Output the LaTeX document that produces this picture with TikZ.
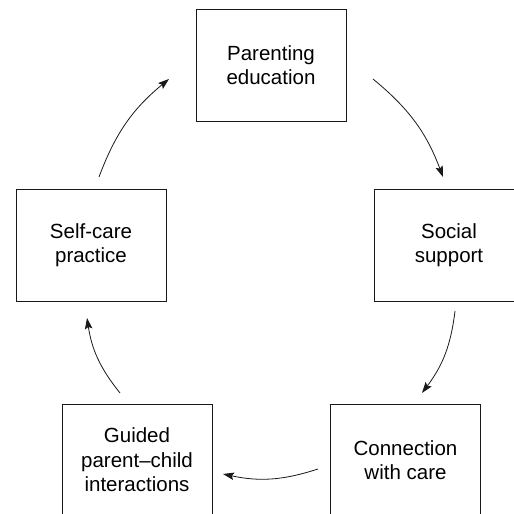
\documentclass[tikz,border=0pt]{standalone}
\usepackage{fontspec}
\setmainfont{Liberation Sans}
\usetikzlibrary{arrows.meta,calc}
\begin{document}
\begin{tikzpicture}[x=1pt,y=1pt,
  stagebox/.style={draw=black!90, line width=0.9pt, minimum width=150pt, minimum height=112pt,
    inner sep=0pt, align=center, font=\fontsize{20.5}{24.5}\selectfont},
  flow/.style={draw=black!90, line width=0.8pt, -{Stealth[length=11pt,width=7.5pt,inset=2pt]}, bend left=15}]
\useasboundingbox (0,0) rectangle (514,514);
\clip (0,0) rectangle (514,514);
\node[stagebox] (P) at (271,449) {Parenting\\education};
\node[stagebox] (S) at (449,269) {Social\\support};
\node[stagebox] (C) at (405.5,54) {Connection\\with care};
\node[stagebox] (G) at (137,54) {Guided\\parent–child\\interactions};
\node[stagebox] (SC) at (91,269) {Self-care\\practice};
% arrow end points
\coordinate (a1s) at (99,337);
\coordinate (a1e) at (169,435);
\coordinate (a2s) at (373,435);
\coordinate (a2e) at (443,337);
\coordinate (a3s) at (455,203);
\coordinate (a3e) at (422,121);
\coordinate (a4s) at (318,45);
\coordinate (a4e) at (223,40);
\coordinate (a5s) at (120,121);
\coordinate (a5e) at (87,196);
\draw[flow] (a1s) to (a1e);
\draw[flow] (a2s) to (a2e);
\draw[flow] (a3s) to (a3e);
\draw[flow] (a4s) to (a4e);
\draw[flow] (a5s) to (a5e);
\end{tikzpicture}
\end{document}
